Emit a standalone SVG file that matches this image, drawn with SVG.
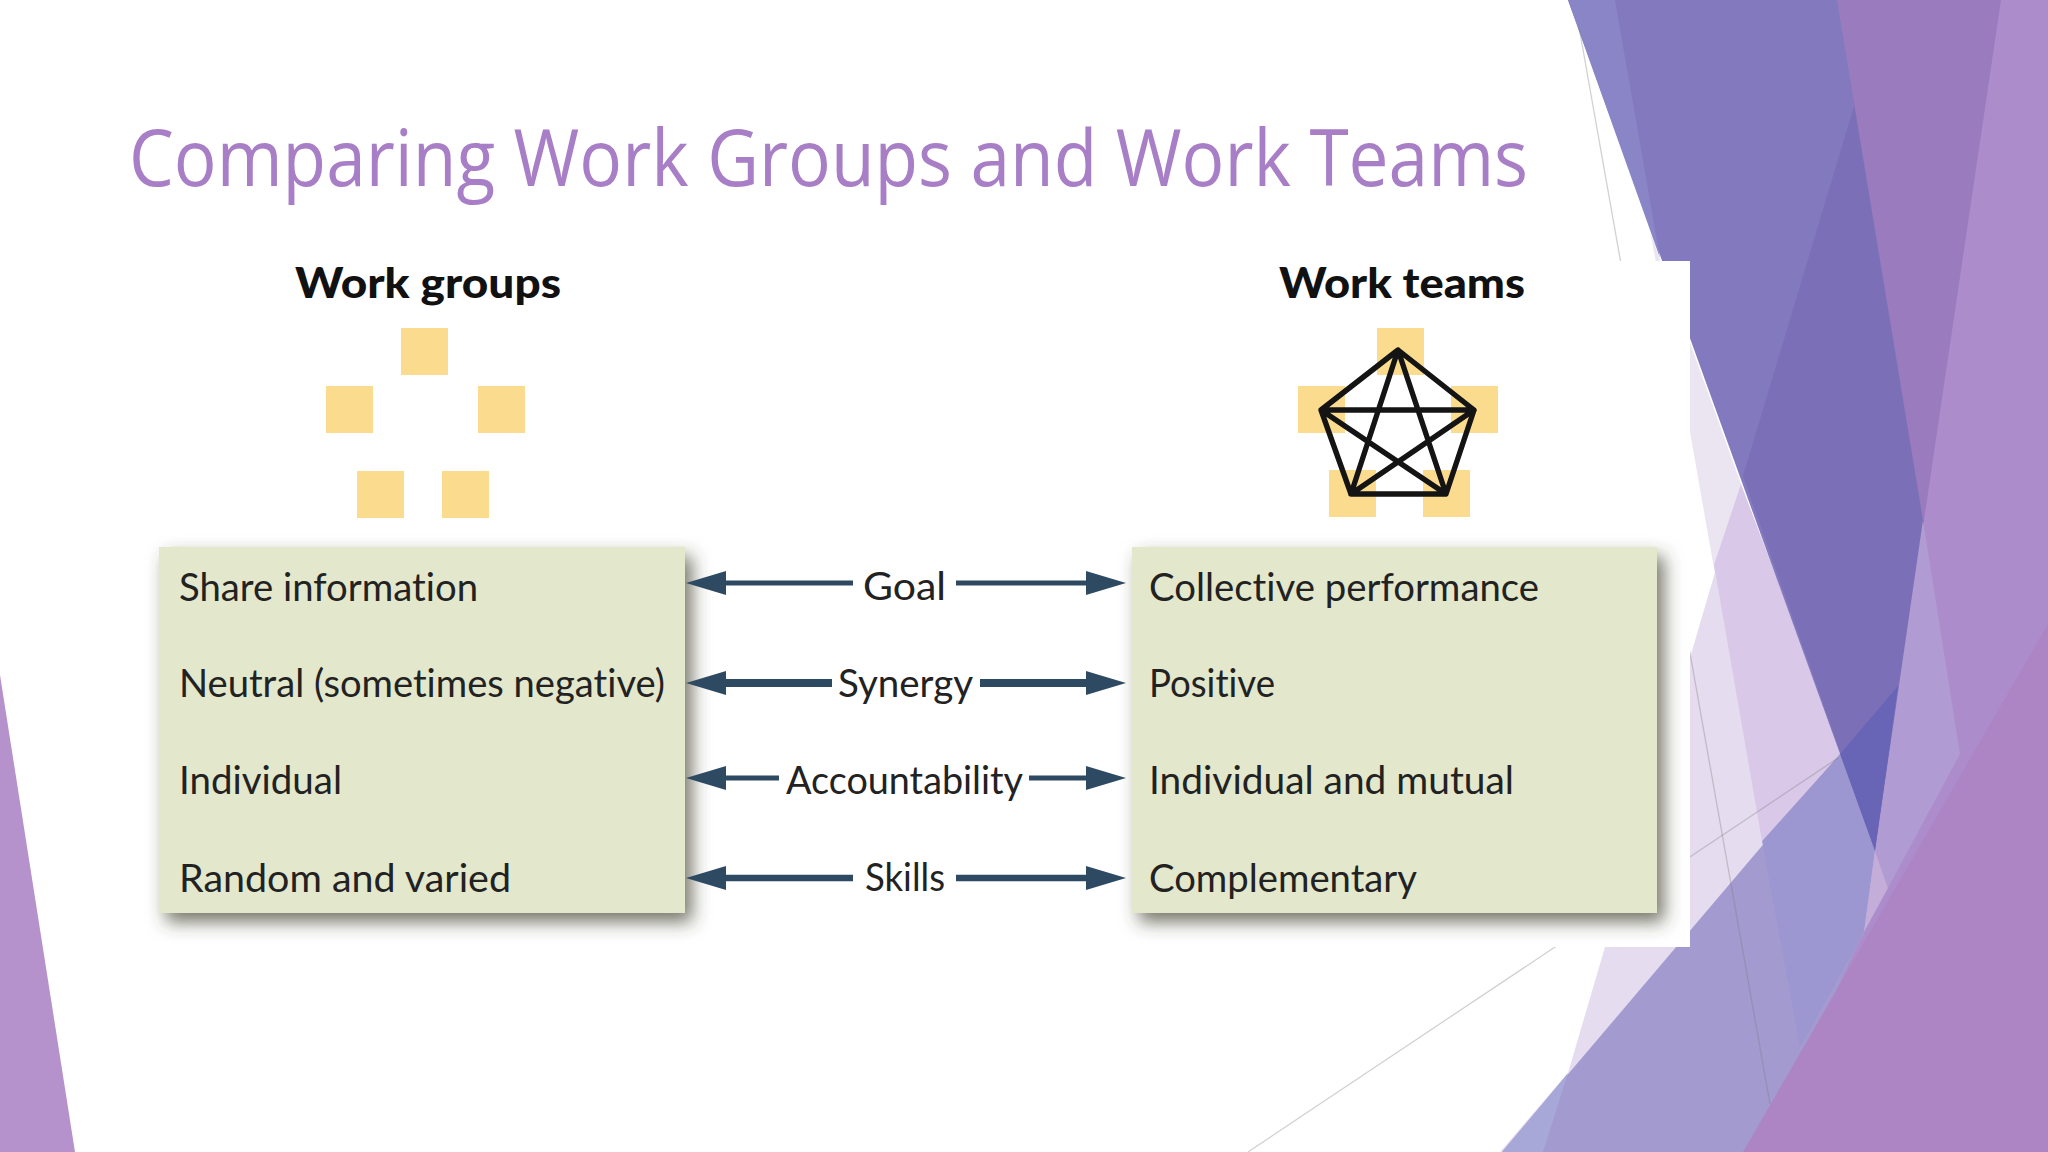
<svg xmlns="http://www.w3.org/2000/svg" width="2048" height="1152" viewBox="0 0 2048 1152">
<style>
.title{font-family:"Open Sans","Noto Sans",sans-serif;font-size:78px;fill:#a87fc6}
.head{font-family:"Lato","Liberation Sans",sans-serif;font-weight:900;font-size:42px;fill:#111;font-variant-ligatures:none}
.body{font-family:"Lato","Liberation Sans",sans-serif;font-size:39px;fill:#222;font-variant-ligatures:none}
.mem{fill:#fbdc8e}
.box{fill:#e3e7cc;filter:url(#sh)}
.thin{stroke:#7a7a7a;stroke-opacity:.35;stroke-width:1.3;fill:none}
.arr{stroke:#2e4a63;fill:none;marker-end:url(#ah)}
</style>
<defs>
<filter id="sh" x="-10%" y="-10%" width="120%" height="125%"><feDropShadow dx="7" dy="9" stdDeviation="9" flood-color="#3a3a2c" flood-opacity=".7"/></filter>
<marker id="ah" markerUnits="userSpaceOnUse" markerWidth="42" markerHeight="26" refX="0" refY="13" orient="auto"><path d="M0,1 L40,13 L0,25 Z" fill="#2e4a63"/></marker>
</defs>
<rect width="2048" height="1152" fill="#fff"/>
<g id="background">
<polygon points="0,675 75,1152 0,1152" fill="#b592cb"/>
<polygon points="1650,232 1741,484 1762,841 1690,432" fill="#ebe4f1"/>
<polygon points="1741,484 1568,1073 1500,1152 1800,1047 1762,841" fill="#e6dcef"/>
<polygon points="1741,484 1785,600 1840,754 1762,841 1714,565" fill="#d9c8e8"/>
<polygon points="1568,0 1900,0 1940,520 1875,851" fill="#8379bf"/>
<polygon points="1568,0 1615,0 1660,258" fill="#8a85c7"/>
<polygon points="1743,476 1855,103 1940,520 1875,851" fill="#7b70b8"/>
<polygon points="1837,0 2020,0 1940,520 1923,520" fill="#9a7bbe"/>
<polygon points="2001,0 2048,0 2048,1152 1743,1152 1864,932 1875,851" fill="#ac8ccb"/>
<polygon points="1923,520 1960,754 1888,888 1875,851" fill="#b09bd2"/>
<polygon points="1502,1152 1840,754 1875,851 1864,932 1760,1152" fill="#a39ad0"/>
<polygon points="1762,841 1840,754 1875,851 1864,932 1800,1047" fill="#9c97d0"/>
<polygon points="1502,1152 1543,1152 1568,1073" fill="#a8a8d8"/>
<polygon points="1840,754 1898,686 1875,851" fill="#6864b6"/>
<polygon points="1875,851 1888,888 1864,932" fill="#c4add8"/>
<line class="thin" x1="1579" y1="27" x2="1770" y2="1104"/>
<line class="thin" x1="1248" y1="1152" x2="1838" y2="758"/>
<polygon points="1743,1152 2048,624 2048,1152" fill="#ad84c4"/>
<rect x="120" y="261" width="1570" height="686" fill="#fff"/>
</g>
<text id="title" class="title" x="129" y="186" textLength="1399" lengthAdjust="spacingAndGlyphs">Comparing Work Groups and Work Teams</text>
<g id="work-groups">
<text class="head" x="295" y="298" textLength="266" lengthAdjust="spacingAndGlyphs">Work groups</text>
<rect class="mem" x="401" y="328" width="47" height="47"/>
<rect class="mem" x="326" y="386" width="47" height="47"/>
<rect class="mem" x="478" y="386" width="47" height="47"/>
<rect class="mem" x="357" y="471" width="47" height="47"/>
<rect class="mem" x="442" y="471" width="47" height="47"/>
</g>
<g id="work-teams">
<text class="head" x="1279" y="298" textLength="246" lengthAdjust="spacingAndGlyphs">Work teams</text>
<rect class="mem" x="1377" y="328" width="47" height="47"/>
<rect class="mem" x="1298" y="386" width="47" height="47"/>
<rect class="mem" x="1451" y="386" width="47" height="47"/>
<rect class="mem" x="1329" y="470" width="47" height="47"/>
<rect class="mem" x="1423" y="470" width="47" height="47"/>
<path d="M1398,350 L1474,410 L1446,494 L1351,494 L1321,410 Z M1398,350 L1351,494 L1474,410 L1321,410 L1446,494 Z" fill="none" stroke="#141414" stroke-width="5.4" stroke-linejoin="round"/>
</g>
<g id="work-groups-box">
<rect class="box" x="159" y="547" width="526" height="366"/>
<text class="body" x="179" y="601" textLength="299" lengthAdjust="spacingAndGlyphs">Share information</text>
<text class="body" x="179" y="697" textLength="486" lengthAdjust="spacingAndGlyphs">Neutral (sometimes negative)</text>
<text class="body" x="179" y="794" textLength="163" lengthAdjust="spacingAndGlyphs">Individual</text>
<text class="body" x="179" y="892" textLength="332" lengthAdjust="spacingAndGlyphs">Random and varied</text>
</g>
<g id="work-teams-box">
<rect class="box" x="1132" y="547" width="525" height="366"/>
<text class="body" x="1149" y="601" textLength="390" lengthAdjust="spacingAndGlyphs">Collective performance</text>
<text class="body" x="1149" y="697" textLength="126" lengthAdjust="spacingAndGlyphs">Positive</text>
<text class="body" x="1149" y="794" textLength="365" lengthAdjust="spacingAndGlyphs">Individual and mutual</text>
<text class="body" x="1149" y="892" textLength="268" lengthAdjust="spacingAndGlyphs">Complementary</text>
</g>
<g id="connectors">
<line class="arr" x1="853" y1="583" x2="726" y2="583" stroke-width="5"/>
<line class="arr" x1="956" y1="583" x2="1086" y2="583" stroke-width="5"/>
<line class="arr" x1="832" y1="683" x2="726" y2="683" stroke-width="8"/>
<line class="arr" x1="980" y1="683" x2="1086" y2="683" stroke-width="8"/>
<line class="arr" x1="779" y1="778" x2="726" y2="778" stroke-width="5"/>
<line class="arr" x1="1029" y1="778" x2="1086" y2="778" stroke-width="5"/>
<line class="arr" x1="853" y1="878" x2="726" y2="878" stroke-width="6.5"/>
<line class="arr" x1="956" y1="878" x2="1086" y2="878" stroke-width="6.5"/>
</g>
<g id="connector-labels">
<text class="body" x="863" y="600" textLength="83" lengthAdjust="spacingAndGlyphs">Goal</text>
<text class="body" x="838" y="697" textLength="135" lengthAdjust="spacingAndGlyphs">Synergy</text>
<text class="body" x="786" y="794" textLength="237" lengthAdjust="spacingAndGlyphs">Accountability</text>
<text class="body" x="865" y="891" textLength="80" lengthAdjust="spacingAndGlyphs">Skills</text>
</g>
</svg>
